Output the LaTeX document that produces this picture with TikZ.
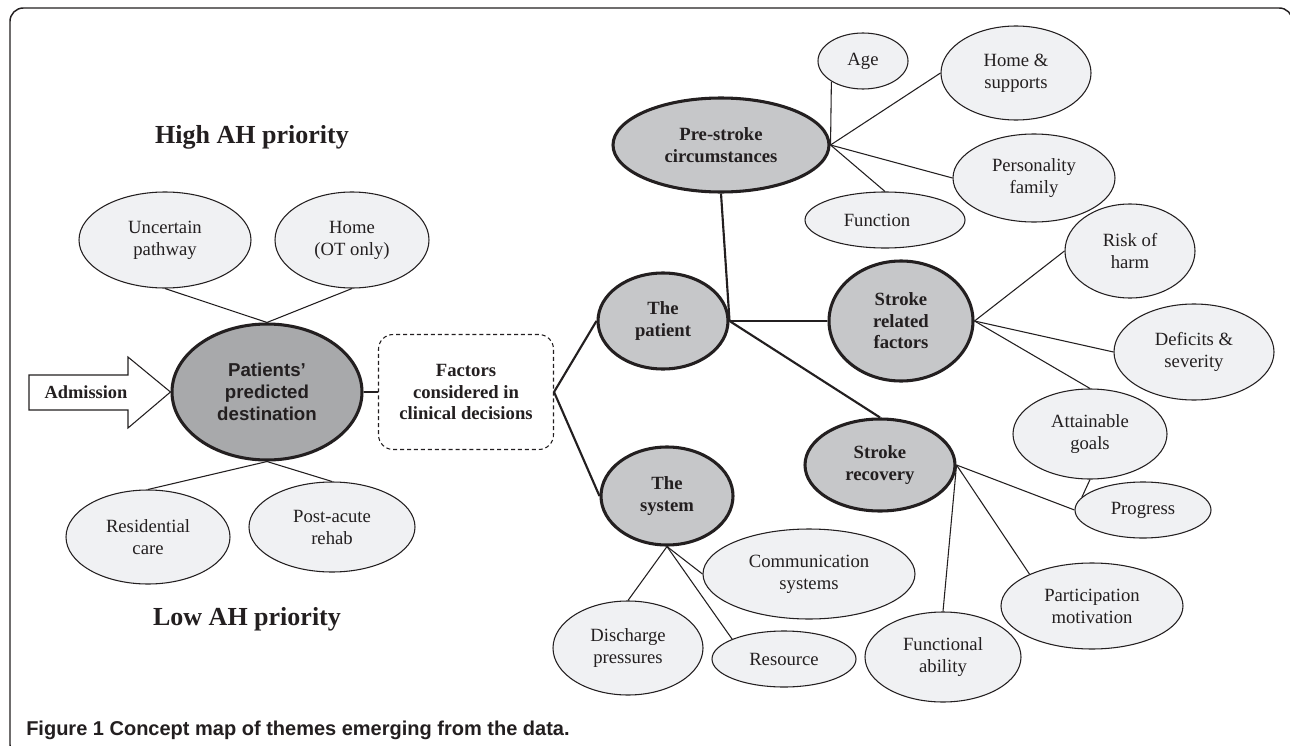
\documentclass[tikz,border=0pt]{standalone}
\usepackage{fontspec}
\setmainfont{Liberation Serif}
\setsansfont{Liberation Sans}
\usetikzlibrary{shapes.geometric}
\definecolor{minorfill}{RGB}{240,241,243}
\definecolor{mainfill}{RGB}{198,199,201}
\definecolor{pdfill}{RGB}{168,169,171}
\definecolor{ink}{RGB}{35,31,32}
\tikzset{
  sz/.style 2 args={minimum width=#1*1.5pt, minimum height=#2*1.5pt},
  minor/.style={ellipse, draw=ink, line width=0.8pt, fill=minorfill, inner sep=0pt,
    align=center, text=ink, font=\fontsize{14}{16.5}\selectfont},
  major/.style={ellipse, draw=ink, line width=2.3pt, fill=mainfill, inner sep=0pt,
    align=center, text=ink, font=\bfseries\fontsize{14}{16.2}\selectfont},
  thinlink/.style={draw=ink, line width=0.8pt},
  thicklink/.style={draw=ink, line width=1.6pt},
  prio/.style={anchor=base, text=ink, font=\bfseries\fontsize{19.5}{22}\selectfont},
}
\begin{document}
\begin{tikzpicture}[x=0.75pt,y=-0.75pt]
\useasboundingbox (0,0) rectangle (1290,746);
\clip (0,0) rectangle (1290,746);
\fill[white] (0,0) rectangle (1290,746);
% frame
\draw[ink, line width=1.1pt, rounded corners=10pt] (10,8) rectangle (1292.5,758);

% priority labels
\node[prio] (high) at (252,143) {High AH priority};
\node[prio] (low) at (247,625) {Low AH priority};

% left cluster
\node[ellipse, draw=ink, line width=2.3pt, fill=pdfill, inner sep=0pt, sz={95}{68},
  align=center, text=ink, font=\sffamily\bfseries\fontsize{14}{16.5}\selectfont]
  (pd) at (267,392) {Patients’\\predicted\\destination};
\node[minor, sz={86}{48}] (unc) at (165,240) {Uncertain\\pathway};
\node[minor, sz={77}{48}] (home) at (352,240) {Home\\(OT only)};
\node[minor, sz={82}{47}] (res) at (148,537) {Residential\\care};
\node[minor, sz={83}{45}] (post) at (332,527) {Post-acute\\rehab};

% admission arrow
\draw[ink, line width=0.8pt, fill=white] (29,375) -- (128,375) -- (128,357) -- (pd.west)
  -- (128,428) -- (128,410) -- (29,410) -- cycle;
\node[text=ink, font=\bfseries\fontsize{13.8}{16}\selectfont] (adm) at (86,392) {Admission};

% factors box
\node[draw=ink, line width=0.8pt, dash pattern=on 3pt off 2.2pt, rounded corners=11pt,
  minimum width=131.25pt, minimum height=86.25pt, inner sep=0pt, align=center, text=ink,
  font=\bfseries\fontsize{14}{16.3}\selectfont] (fac) at (466,392)
  {Factors\\considered in\\clinical decisions};

% main themes
\node[major, sz={65}{48}] (patient) at (663,321) {The\\patient};
\node[major, sz={66}{49}] (sys) at (667,496) {The\\system};
\node[major, sz={108}{47}] (pre) at (721,145) {Pre-stroke\\circumstances};
\node[major, sz={72}{60}] (srf) at (901,321) {Stroke\\related\\factors};
\node[major, sz={75}{46}] (rec) at (880,465) {Stroke\\recovery};

% pre-stroke children
\node[minor, sz={45}{28}] (age) at (863,61) {Age};
\node[minor, sz={75}{47}] (homes) at (1016,73) {Home \&\\supports};
\node[minor, sz={81}{44}] (pers) at (1034,178) {Personality\\family};
\node[minor, sz={80}{28}] (fn) at (885,220) {\hspace*{-12pt}Function};

% stroke related children
\node[minor, sz={65}{47}] (risk) at (1130,251) {Risk of\\harm};
\node[minor, sz={80}{48}] (def) at (1194,352) {Deficits \&\\severity};
\node[minor, sz={77}{45}] (att) at (1090,434) {Attainable\\goals};

% recovery children
\node[minor, sz={68}{28}] (prog) at (1143,510) {Progress};
\node[minor, sz={91}{43}] (part) at (1092,606) {Participation\\motivation};
\node[minor, sz={78}{45}] (func) at (943,657) {Functional\\ability};

% system children
\node[minor, sz={106}{45}] (comm) at (809,574) {Communication\\systems};
\node[minor, sz={75}{47}] (dis) at (628,648) {Discharge\\pressures};
\node[minor, sz={72}{28}] (resu) at (784,659) {Resource};

% caption
\node[anchor=base west, inner sep=0pt, text=ink,
  font=\sffamily\bfseries\fontsize{15}{17}\selectfont] (cap) at (26,735)
  {Figure 1 Concept map of themes emerging from the data.};

% connectors
\path[thinlink] (unc.south) -- (pd.north);
\path[thinlink] (home.south) -- (pd.north);
\path[thinlink] (pd.south) -- (res.north);
\path[thinlink] (pd.south) -- (post.north);
\path[thicklink] (pd.east) -- (fac.west);
\path[thicklink] (fac.east) -- (patient.west);
\path[thicklink] (fac.east) -- (sys.west);
\path[thicklink] (pre.south) -- (patient.east);
\path[thicklink] (patient.east) -- (srf.west);
\path[thicklink] (patient.east) -- (rec.north);
\path[thinlink] (pre.east) -- (age.213);
\path[thinlink] (pre.east) -- (homes.west);
\path[thinlink] (pre.east) -- (pers.west);
\path[thinlink] (pre.east) -- (fn.north);
\path[thinlink] (srf.east) -- (risk.west);
\path[thinlink] (srf.east) -- (def.west);
\path[thinlink] (srf.east) -- (att.north);
\path[thinlink] (rec.east) -- (prog.west);
\path[thinlink] (rec.east) -- (part.153);
\path[thinlink] (rec.east) -- (func.north);
\path[thinlink] (att.south) -- (prog.168);
\path[thinlink] (sys.south) -- (dis.north);
\path[thinlink] (sys.south) -- (resu.159);
\path[thinlink] (sys.south) -- (comm.west);
\end{tikzpicture}
\end{document}
